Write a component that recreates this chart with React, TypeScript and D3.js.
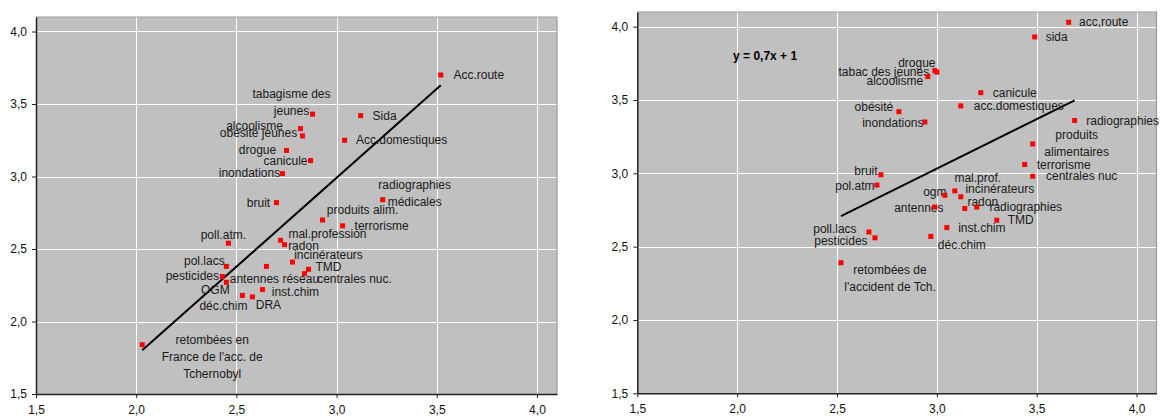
import React, { useEffect, useRef } from 'react';
import * as d3 from 'd3';

// left panel
const leftNames = [
  'Acc.route', 'Sida', 'Acc.domestiques', 'tabagisme des\njeunes', 'alcoolisme', 'obésité jeunes',
  'drogue', 'canicule', 'inondations', 'bruit', 'radiographies\nmédicales', 'produits alim.',
  'terrorisme', 'mal.profession', 'radon', 'incinérateurs', 'TMD', 'centrales nuc.',
  'antennes réseau', 'poll.atm.', 'pol.lacs', 'pesticides', 'OGM', 'déc.chim', 'DRA', 'inst.chim',
  "retombées en\nFrance de l'acc. de\nTchernobyl",
];
const leftX = [
  3.52, 3.12, 3.04, 2.88, 2.82, 2.83, 2.75, 2.87, 2.73, 2.7, 3.23, 2.93, 3.03, 2.72, 2.74, 2.78,
  2.86, 2.84, 2.65, 2.46, 2.45, 2.43, 2.45, 2.53, 2.58, 2.63, 2.03,
];
const leftY = [
  3.7, 3.42, 3.25, 3.43, 3.33, 3.28, 3.18, 3.11, 3.02, 2.82, 2.84, 2.7, 2.66, 2.56, 2.53, 2.41,
  2.36, 2.33, 2.38, 2.54, 2.38, 2.31, 2.27, 2.18, 2.17, 2.22, 1.84,
];
const leftTrend = { slope: 1.226, intercept: -0.687 };

// right panel
const rightNames = [
  'acc,route', 'sida', 'drogue', 'tabac des jeunes', 'alcoolisme', 'canicule', 'acc.domestiques',
  'obésité', 'inondations', 'radiographies', 'produits\nalimentaires', 'terrorisme', 'centrales nuc',
  'bruit', 'pol.atm', 'mal.prof.', 'ogm', 'incinérateurs', 'antennes', 'radon', 'radiographies',
  'TMD', 'inst.chim', 'déc.chim', 'poll.lacs', 'pesticides', "retombées de\nl'accident de Tch.",
];
const rightX = [
  3.66, 3.49, 3.0, 2.99, 2.955, 3.22, 3.12, 2.81, 2.94, 3.69, 3.48, 3.44, 3.48, 2.72, 2.7, 3.09,
  3.04, 3.12, 2.99, 3.14, 3.2, 3.3, 3.05, 2.97, 2.66, 2.69, 2.52,
];
const rightY = [
  4.03, 3.93, 3.69, 3.7, 3.66, 3.55, 3.46, 3.42, 3.35, 3.36, 3.2, 3.06, 2.98, 2.99, 2.92, 2.88,
  2.85, 2.84, 2.77, 2.76, 2.77, 2.68, 2.63, 2.57, 2.6, 2.56, 2.39,
];
const rightTrend = { slope: 0.674, intercept: 1.01 };
const rightEquation = 'y = 0,7x + 1';
const rightEquationAt = [2.14, 3.8];

const axisDomain = [1.5, 4.1];
const tickValues = [1.5, 2.0, 2.5, 3.0, 3.5, 4.0];

// label placement, px from the marker (centre of first line)
const leftLabelPos = [
  [38, 0], [24, 0], [57, 0], [-21, -20], [-46, -3], [-44, -3], [-29, -1], [-25, 0], [-33, -1],
  [-18, 0], [32, -15], [40, -10], [39, 0], [47, -7], [19, 1], [36, -7], [20, -3], [50, 5],
  [8, 12], [-5, -8], [-22, -6], [-30, -1], [-11, 7], [-19, 10], [16, 8], [33, 2], [70, -5],
];
const rightLabelPos = [
  [35, 0], [22, 0], [-20, -9], [-51, 1], [-33, 4], [34, 0], [58, 0], [-25, -5], [-32, 1],
  [48, 0], [44, -9], [39, 0], [49, 0], [-15, -4], [-22, 1], [23, -13], [-10, -4], [39, -8],
  [-16, 1], [18, -7], [49, 0], [24, 0], [35, 0], [31, 8], [-34, -3], [-34, 3], [49, 7],
];

const fontFamily = '"Liberation Sans", Arial, sans-serif';
const fmt = (v) => d3.format('.1f')(v).replace('.', ',');

const drawPanel = (g, cfg) => {
  const { names, xs, ys, labelPos, trend, frame, equation, equationAt } = cfg;
  const x = d3.scaleLinear().domain(axisDomain).range([frame.left, frame.right]);
  const y = d3.scaleLinear().domain(axisDomain).range([frame.bottom, frame.top]);

  g.append('rect')
    .attr('x', frame.left)
    .attr('y', frame.top)
    .attr('width', frame.right - frame.left)
    .attr('height', frame.bottom - frame.top)
    .attr('fill', '#c0c0c0');

  const grid = tickValues.filter((t) => t > axisDomain[0]);
  g.selectAll('.vgrid')
    .data(grid)
    .enter()
    .append('line')
    .attr('x1', (d) => Math.round(x(d)) + 0.5)
    .attr('x2', (d) => Math.round(x(d)) + 0.5)
    .attr('y1', frame.top)
    .attr('y2', frame.bottom)
    .attr('stroke', '#ffffff')
    .attr('stroke-width', 1);
  g.selectAll('.hgrid')
    .data(grid)
    .enter()
    .append('line')
    .attr('y1', (d) => Math.round(y(d)) + 0.5)
    .attr('y2', (d) => Math.round(y(d)) + 0.5)
    .attr('x1', frame.left)
    .attr('x2', frame.right)
    .attr('stroke', '#ffffff')
    .attr('stroke-width', 1);

  // top / right border
  g.append('path')
    .attr('d', `M${frame.left},${frame.top}H${frame.right}V${frame.bottom}`)
    .attr('fill', 'none')
    .attr('stroke', '#9a9a9a')
    .attr('stroke-width', 1.2);

  const xAxis = d3.axisBottom(x).tickValues(tickValues).tickFormat(fmt).tickSize(4).tickSizeOuter(0);
  const yAxis = d3.axisLeft(y).tickValues(tickValues).tickFormat(fmt).tickSize(4).tickSizeOuter(0);
  const styleAxis = (sel) => {
    sel.select('.domain').attr('stroke', '#222').attr('stroke-width', 1.5);
    sel.selectAll('.tick line').attr('stroke', '#222');
    sel.selectAll('text')
      .attr('fill', '#111')
      .style('font-size', '12px')
      .style('font-family', fontFamily);
  };
  g.append('g')
    .attr('transform', `translate(0,${frame.bottom})`)
    .call(xAxis)
    .call(styleAxis)
    .selectAll('text')
    .attr('dy', '1.05em');
  g.append('g')
    .attr('transform', `translate(${frame.left},0)`)
    .call(yAxis)
    .call(styleAxis)
    .selectAll('text')
    .attr('x', -9);

  const [x0, x1] = d3.extent(xs);
  g.append('line')
    .attr('x1', x(x0))
    .attr('y1', y(trend.slope * x0 + trend.intercept))
    .attr('x2', x(x1))
    .attr('y2', y(trend.slope * x1 + trend.intercept))
    .attr('stroke', '#000')
    .attr('stroke-width', 2);

  const pts = names.map((name, i) => ({ name, x: xs[i], y: ys[i], pos: labelPos[i] }));

  const labels = g.selectAll('.lbl')
    .data(pts)
    .enter()
    .append('text')
    .attr('text-anchor', 'middle')
    .attr('fill', '#1a1a1a')
    .style('font-size', '12px')
    .style('font-family', fontFamily);
  labels.each(function (d) {
    const lines = d.name.split('\n');
    const t = d3.select(this);
    lines.forEach((line, k) => {
      t.append('tspan')
        .attr('x', x(d.x) + d.pos[0])
        .attr('y', y(d.y) + d.pos[1] + k * 17)
        .attr('dy', '0.35em')
        .text(line);
    });
  });

  g.selectAll('.pt')
    .data(pts)
    .enter()
    .append('rect')
    .attr('x', (d) => x(d.x) - 2.5)
    .attr('y', (d) => y(d.y) - 2.5)
    .attr('width', 5)
    .attr('height', 5)
    .attr('fill', '#ff0000');

  if (equation) {
    g.append('text')
      .attr('x', x(equationAt[0]))
      .attr('y', y(equationAt[1]))
      .attr('dy', '0.35em')
      .attr('text-anchor', 'middle')
      .attr('fill', '#000')
      .style('font-size', '12px')
      .style('font-weight', 'bold')
      .style('font-family', fontFamily)
      .text(equation);
  }
};

const App = () => {
  const svgRef = useRef(null);

  useEffect(() => {
    const svg = d3.select(svgRef.current);
    svg.selectAll('*').remove();
    drawPanel(svg.append('g'), {
      names: leftNames,
      xs: leftX,
      ys: leftY,
      labelPos: leftLabelPos,
      trend: leftTrend,
      frame: { left: 36, right: 557, top: 17, bottom: 394 },
    });
    drawPanel(svg.append('g'), {
      names: rightNames,
      xs: rightX,
      ys: rightY,
      labelPos: rightLabelPos,
      trend: rightTrend,
      frame: { left: 637.3, right: 1156.5, top: 12, bottom: 393.3 },
      equation: rightEquation,
      equationAt: rightEquationAt,
    });
  }, []);

  return (
    <div style={{ position: 'absolute', left: 0, top: 0, background: '#fff' }}>
      <svg ref={svgRef} width={1164} height={420} style={{ display: 'block' }} />
    </div>
  );
};

export default App;
